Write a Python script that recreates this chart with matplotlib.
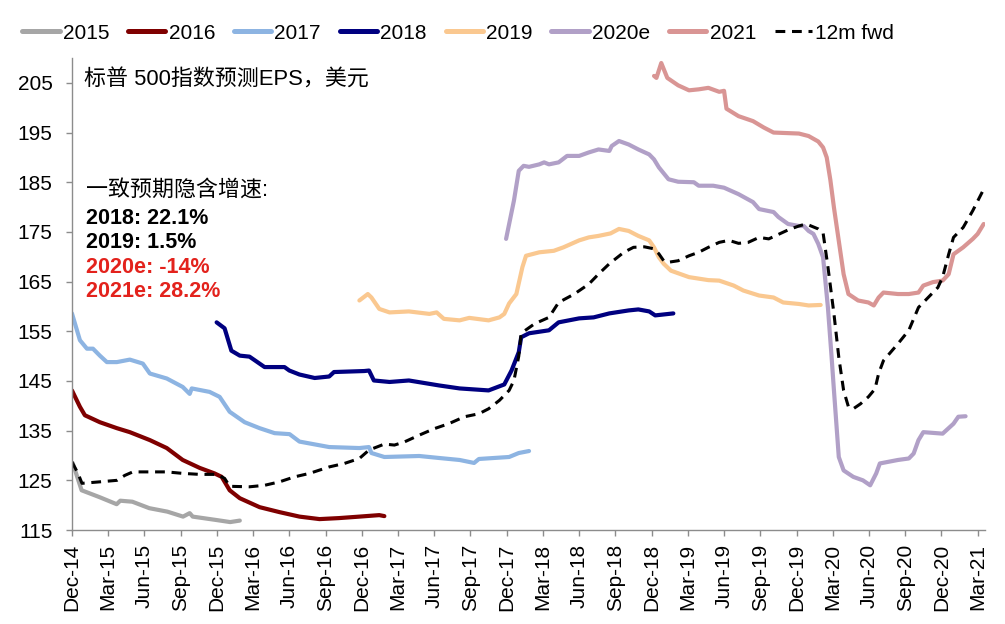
import matplotlib
matplotlib.use("Agg")
from matplotlib import pyplot as plt
import numpy as np

# months since Dec-14 (x) and S&P 500 EPS estimates (y)
m2015 = [0.06, 0.8, 2.3, 3.7, 4.0, 5.0, 6.4, 7.9, 9.2, 9.75, 10.0, 12.0, 13.1, 13.9]
v2015 = [128.5, 123.0, 121.6, 120.2, 120.9, 120.7, 119.4, 118.7, 117.7, 118.4, 117.7, 117.0, 116.6, 116.9]

m2016 = [0.0, 0.66, 1.07, 2.31, 3.72, 4.79, 6.45, 7.85, 9.17, 10.58, 11.8, 12.4, 13.06, 13.9,
         15.54, 17.19, 18.84, 20.5, 22.1, 23.8, 25.45, 25.87]
v2016 = [143.1, 139.8, 138.1, 136.7, 135.5, 134.7, 133.1, 131.5, 129.1, 127.5, 126.4, 125.7, 123.0, 121.4,
         119.6, 118.6, 117.7, 117.2, 117.4, 117.7, 118.0, 117.8]

m2017 = [0.0, 0.66, 1.24, 1.74, 2.31, 2.89, 3.72, 4.79, 5.87, 6.45, 7.85, 9.17, 9.75, 9.92, 11.4,
         12.23, 13.06, 14.3, 15.54, 16.78, 18.02, 18.84, 21.3, 23.8, 24.6, 24.8, 25.87, 28.76,
         30.4, 32.1, 33.3, 33.7, 36.2, 37.0, 37.85]
v2017 = [158.6, 153.2, 151.5, 151.5, 150.1, 148.8, 148.8, 149.3, 148.5, 146.5, 145.5, 143.8, 142.4, 143.5, 142.8,
         141.8, 138.8, 136.7, 135.5, 134.5, 134.3, 132.8, 131.7, 131.5, 131.7, 130.5, 129.7, 129.9,
         129.5, 129.1, 128.5, 129.3, 129.7, 130.5, 130.9]

m2018 = [11.98, 12.64, 13.2, 13.9, 14.7, 15.95, 17.6, 18.0, 18.84, 20.1, 21.3, 21.7, 24.2, 24.6, 25.0,
         26.3, 27.9, 30.4, 32.1, 34.5, 35.8, 36.4, 37.0, 37.2, 37.85, 39.5, 40.3, 42.0, 43.2, 44.5,
         46.1, 46.9, 47.8, 48.3, 49.8]
v2018 = [156.8, 155.6, 151.1, 150.1, 149.9, 147.8, 147.8, 147.1, 146.3, 145.6, 145.9, 146.8, 147.0, 147.1, 145.1,
         144.8, 145.1, 144.1, 143.5, 143.1, 144.3, 147.1, 150.8, 153.8, 154.6, 155.2, 156.8, 157.6, 157.8, 158.6,
         159.2, 159.4, 159.0, 158.2, 158.6]

m2019 = [23.8, 24.5, 24.8, 25.45, 26.3, 27.9, 29.6, 30.2, 30.8, 32.1, 32.9, 34.5, 35.4, 35.8, 36.2, 36.8,
         37.3, 37.6, 38.7, 39.9, 40.7, 42.0, 42.8, 43.6, 44.6, 45.3, 46.1, 46.9, 47.8, 48.2, 48.6, 49.0,
         49.6, 51.1, 52.7, 53.6, 54.8, 55.6, 56.9, 58.1, 58.9, 60.2, 61.0, 62.0]
v2019 = [161.2, 162.5, 161.8, 159.5, 158.8, 159.0, 158.5, 158.8, 157.5, 157.2, 157.7, 157.2, 157.8, 158.5, 160.6, 162.5,
         167.9, 170.2, 170.9, 171.2, 171.9, 173.3, 173.9, 174.2, 174.7, 175.6, 175.2, 174.2, 173.3, 171.9, 169.9, 168.6,
         167.2, 165.9, 165.3, 165.2, 164.2, 163.2, 162.2, 161.8, 160.8, 160.5, 160.2, 160.3]

m2020 = [35.95, 36.6, 37.0, 37.4, 37.85, 38.7, 39.1, 39.5, 40.3, 41.0, 42.0, 42.8, 43.6, 44.5, 44.7, 45.3,
         46.1, 46.9, 47.8, 48.2, 48.6, 49.4, 50.2, 51.5, 51.9, 53.1, 54.0, 55.2, 56.4, 56.9, 58.1, 58.5,
         59.3, 60.2, 60.6, 61.0, 61.4, 61.8, 62.2, 62.6, 62.9, 63.1, 63.5, 63.9, 64.7, 65.5, 66.1, 66.6,
         66.9, 68.4, 69.3, 69.7, 70.1, 70.5, 72.1, 73.0, 73.4, 74.0]
v2020 = [173.6, 181.3, 187.3, 188.3, 188.1, 188.6, 189.0, 188.6, 189.0, 190.3, 190.3, 191.0, 191.6, 191.3, 192.3, 193.3,
         192.6, 191.6, 190.6, 189.6, 188.0, 185.6, 185.1, 185.0, 184.3, 184.3, 183.9, 182.6, 181.0, 179.6, 179.0, 178.0,
         176.6, 176.2, 176.2, 175.2, 174.6, 172.6, 169.9, 159.8, 150.0, 143.1, 129.7, 127.0, 125.7, 125.0, 124.0, 126.4,
         128.4, 129.1, 129.4, 130.4, 133.1, 134.7, 134.4, 136.4, 137.8, 137.9]

m2021 = [48.2, 48.4, 48.8, 49.3, 50.2, 51.1, 51.9, 52.7, 53.6, 54.0, 54.2, 55.2, 56.4, 57.3, 58.1, 60.2,
         61.0, 61.8, 62.2, 62.5, 62.8, 63.1, 63.5, 63.9, 64.3, 65.1, 65.95, 66.4, 66.8, 67.2, 68.4, 69.3,
         70.1, 70.5, 71.3, 72.1, 72.6, 73.0, 73.8, 74.6, 75.0, 75.5]
v2021 = [206.4, 206.0, 209.0, 206.0, 204.5, 203.5, 203.7, 204.0, 203.2, 203.4, 199.8, 198.3, 197.3, 196.0, 195.0, 194.8,
         194.3, 193.2, 192.0, 190.0, 185.5, 179.9, 173.2, 166.5, 162.5, 161.2, 160.8, 160.2, 161.8, 162.8, 162.5, 162.5,
         162.8, 164.2, 164.9, 165.2, 166.5, 170.5, 171.9, 173.6, 174.6, 176.6]

mfwd = [0.0, 0.5, 0.83, 2.31, 3.72, 4.38, 5.04, 6.45, 7.85, 9.17, 10.58, 11.98, 12.64, 13.06, 14.7, 15.95,
        17.19, 18.43, 19.67, 21.3, 22.56, 23.8, 24.6, 25.45, 25.87, 26.7, 27.5, 28.76, 30.0, 31.2, 32.5,
        33.7, 34.5, 35.4, 36.2, 36.6, 37.0, 37.2, 38.3, 39.5, 40.3, 41.6, 42.8, 43.6, 44.5, 45.7, 46.5,
        47.4, 48.2, 48.6, 49.0, 49.4, 50.2, 51.1, 51.9, 52.7, 53.6, 54.4, 55.2, 56.0, 56.9, 57.7, 59.3,
        60.2, 60.8, 61.8, 62.2, 62.6, 63.1, 63.5, 63.9, 64.3, 64.7, 65.3, 65.95, 66.5, 66.8, 67.2, 68.4,
        69.3, 70.1, 70.9, 71.7, 72.1, 72.6, 73.0, 73.8, 74.6, 75.5]
vfwd = [128.7, 126.4, 124.4, 124.7, 125.0, 126.0, 126.7, 126.7, 126.7, 126.4, 126.2, 126.2, 125.4, 123.8, 123.7, 124.0,
        124.7, 125.7, 126.4, 127.7, 128.4, 129.4, 131.1, 131.9, 132.3, 132.1, 132.7, 134.1, 135.4, 136.4, 137.8,
        138.4, 139.4, 141.1, 143.1, 145.1, 150.0, 154.6, 156.5, 157.8, 160.8, 162.5, 164.5, 166.5, 168.6, 170.9, 171.9,
        172.0, 171.6, 170.6, 169.2, 168.9, 169.2, 170.2, 170.9, 171.9, 172.9, 173.3, 172.7, 172.9, 173.9, 173.6, 175.4,
        176.2, 176.6, 175.6, 174.8, 168.0, 158.5, 149.8, 143.1, 139.8, 139.4, 140.4, 141.8, 143.4, 146.5, 149.1, 152.5,
        155.2, 159.8, 161.8, 163.8, 165.9, 170.5, 173.9, 175.9, 179.3, 183.6]

xticklabels = ["Dec-14", "Mar-15", "Jun-15", "Sep-15", "Dec-15", "Mar-16", "Jun-16", "Sep-16", "Dec-16",
               "Mar-17", "Jun-17", "Sep-17", "Dec-17", "Mar-18", "Jun-18", "Sep-18", "Dec-18", "Mar-19",
               "Jun-19", "Sep-19", "Dec-19", "Mar-20", "Jun-20", "Sep-20", "Dec-20", "Mar-21"]
yticks = [115, 125, 135, 145, 155, 165, 175, 185, 195, 205]

growth_labels = ["2018: 22.1%", "2019: 1.5%", "2020e: -14%", "2021e: 28.2%"]
growth_colors = ["black", "black", "#E3221C", "#E3221C"]

font = ["Liberation Sans", "Noto Sans CJK SC", "DejaVu Sans"]
plt.rcParams["font.family"] = font

fig = plt.figure(figsize=(10.05, 6.24), dpi=100)
ax = fig.add_axes([0.0716, 0.1506, 0.9084, 0.7564])

series = [
    (m2015, v2015, "#A6A6A6", "2015"),
    (m2016, v2016, "#7F0000", "2016"),
    (m2017, v2017, "#8DB4E2", "2017"),
    (m2018, v2018, "#000080", "2018"),
    (m2019, v2019, "#FAC890", "2019"),
    (m2020, v2020, "#B1A0C7", "2020e"),
    (m2021, v2021, "#D99594", "2021"),
]
for xs, ys, c, lab in series:
    ax.plot(xs, ys, color=c, lw=3.0, label=lab, solid_capstyle="round")
ax.plot(mfwd, vfwd, color="black", lw=2.2, ls=(0, (3.2, 2.2)), label="12m fwd")

ax.set_xlim(0, 75.6)
ax.set_ylim(115, 210)
ax.set_xticks(np.arange(0, 76, 3))
ax.set_xticklabels(xticklabels, rotation=90, fontsize=15)
ax.set_yticks(yticks)
ax.set_yticklabels([str(t) for t in yticks], fontsize=15)

for s in ["top", "right"]:
    ax.spines[s].set_visible(False)
for s in ["left", "bottom"]:
    ax.spines[s].set_color("#8C8C8C")
    ax.spines[s].set_linewidth(1.0)
ax.tick_params(axis="both", direction="out", length=4, color="#8C8C8C", width=1.0)
ax.tick_params(axis="y", pad=10)
ax.tick_params(axis="x", pad=6)

leg = fig.legend(loc="center left", bbox_to_anchor=(0.022, 0.947), ncol=8, frameon=False,
                 fontsize=15, handlelength=1.8, handletextpad=0.15, columnspacing=0.9,
                 borderpad=0, borderaxespad=0)
for h in leg.get_lines()[:-1]:
    h.set_linewidth(3.6)

ax.text(0.013, 0.953, "标普 500指数预测EPS，美元", transform=ax.transAxes, fontsize=15.8,
        family=font, va="center", ha="left")
ax.text(0.015, 0.72, "一致预期隐含增速:", transform=ax.transAxes, fontsize=15.8,
        family=font, va="center", ha="left")
for i, (t, c) in enumerate(zip(growth_labels, growth_colors)):
    ax.text(0.015, 0.661 - i * 0.052, t, transform=ax.transAxes, fontsize=15.5,
            fontweight="bold", color=c, va="center", ha="left")

fig.savefig("out.png", dpi=100)
